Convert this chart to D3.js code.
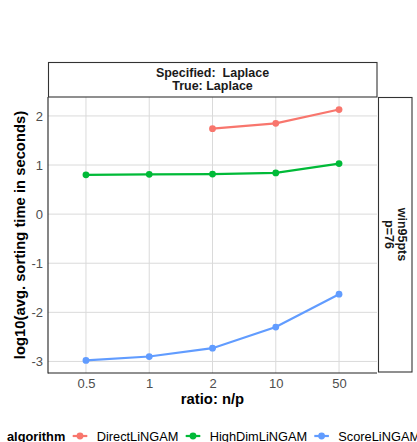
<!DOCTYPE html>
<html>
<head>
<meta charset="utf-8">
<script src="https://cdn.jsdelivr.net/npm/d3@7"></script>
<style>
  html, body { margin: 0; padding: 0; background: #fff; }
  svg { display: block; font-family: "Liberation Sans", Arial, sans-serif; }
  .strip-text { white-space: pre; }
</style>
</head>
<body>
<svg id="chart" width="417" height="442"></svg>
<script>
// Sample-size ratios (n/p), shown as evenly spaced categories
const ratios = ["0.5", "1", "2", "10", "50"];

// log10 of the average sorting time in seconds, one value per ratio
const directLiNGAM  = [null, null, 1.74, 1.85, 2.13];
const highDimLiNGAM = [0.80, 0.81, 0.815, 0.84, 1.03];
const scoreLiNGAM   = [-2.98, -2.90, -2.73, -2.30, -1.63];

const algorithms = ["DirectLiNGAM", "HighDimLiNGAM", "ScoreLiNGAM"];
const algorithmColors = ["#F8766D", "#00BA38", "#619CFF"];
const yTicks = [2, 1, 0, -1, -2, -3];

const stripTitle = ["Specified:  Laplace", "True: Laplace"];
const sideStrip = ["win95pts", "p=76"];

const seriesValues = [directLiNGAM, highDimLiNGAM, scoreLiNGAM];

const svg = d3.select("#chart");
const panel = { left: 48, right: 377, top: 97, bottom: 373 };

const x = d3.scalePoint()
  .domain(ratios)
  .range([panel.left, panel.right])
  .padding(0.6);

// continuous scale with 5% expansion on each side of the data range
const allVals = seriesValues.flat().filter(v => v != null);
const [lo, hi] = d3.extent(allVals);
const pad = (hi - lo) * 0.05;
const y = d3.scaleLinear()
  .domain([lo - pad, hi + pad])
  .range([panel.bottom, panel.top]);

const color = d3.scaleOrdinal().domain(algorithms).range(algorithmColors);

// grid lines
const grid = svg.append("g");
grid.selectAll("line.gy").data(yTicks).join("line")
  .attr("x1", panel.left).attr("x2", panel.right)
  .attr("y1", d => y(d)).attr("y2", d => y(d))
  .attr("stroke", "#dadada").attr("stroke-width", 1);
grid.selectAll("line.gx").data(ratios).join("line")
  .attr("x1", d => x(d)).attr("x2", d => x(d))
  .attr("y1", panel.top).attr("y2", panel.bottom)
  .attr("stroke", "#dadada").attr("stroke-width", 1);

// axes (no tick marks, only labels)
const yAxis = svg.append("g")
  .attr("transform", `translate(${panel.left},0)`)
  .call(d3.axisLeft(y).tickValues(yTicks).tickSize(0).tickPadding(5).tickFormat(d => String(d)));
yAxis.select(".domain").remove();
yAxis.selectAll("text").attr("fill", "#4d4d4d").style("font-size", "13px")
  .attr("font-family", "Liberation Sans, Arial, sans-serif");

const xAxis = svg.append("g")
  .attr("transform", `translate(0,${panel.bottom})`)
  .call(d3.axisBottom(x).tickSize(0).tickPadding(6));
xAxis.select(".domain").remove();
xAxis.selectAll("text").attr("fill", "#4d4d4d").style("font-size", "13px")
  .attr("font-family", "Liberation Sans, Arial, sans-serif");

// axis lines on left and bottom
svg.append("line")
  .attr("x1", panel.left).attr("x2", panel.left)
  .attr("y1", panel.top).attr("y2", panel.bottom + 0.5)
  .attr("stroke", "#222").attr("stroke-width", 1.1);
svg.append("line")
  .attr("x1", panel.left).attr("x2", panel.right)
  .attr("y1", panel.bottom).attr("y2", panel.bottom)
  .attr("stroke", "#222").attr("stroke-width", 1.1);

// series lines and points
const line = d3.line()
  .defined(d => d.v != null)
  .x(d => x(d.r))
  .y(d => y(d.v));

algorithms.forEach((alg, i) => {
  const pts = ratios.map((r, j) => ({ r, v: seriesValues[i][j] }));
  svg.append("path")
    .datum(pts)
    .attr("fill", "none")
    .attr("stroke", color(alg))
    .attr("stroke-width", 2.2)
    .attr("d", line);
  svg.append("g").selectAll("circle")
    .data(pts.filter(d => d.v != null))
    .join("circle")
    .attr("cx", d => x(d.r))
    .attr("cy", d => y(d.v))
    .attr("r", 3.4)
    .attr("fill", color(alg));
});

// top facet strip
svg.append("rect")
  .attr("x", panel.left + 0.5).attr("y", 62.5)
  .attr("width", panel.right - panel.left - 0.5).attr("height", panel.top - 62.5)
  .attr("fill", "#fff").attr("stroke", "#333").attr("stroke-width", 1.1);
svg.append("g").selectAll("text").data(stripTitle).join("text")
  .attr("class", "strip-text")
  .attr("x", (panel.left + panel.right) / 2)
  .attr("y", (d, i) => 77.3 + i * 13)
  .attr("text-anchor", "middle")
  .attr("fill", "#1a1a1a")
  .style("font-size", "12.5px").style("font-weight", "bold")
  .text(d => d);

// right facet strip
svg.append("rect")
  .attr("x", 378.5).attr("y", panel.top + 0.5)
  .attr("width", 412 - 378.5).attr("height", 372 - panel.top - 0.5)
  .attr("fill", "#fff").attr("stroke", "#333").attr("stroke-width", 1.1);
const sideY = (panel.top + 372) / 2;
svg.append("g").selectAll("text").data(sideStrip).join("text")
  .attr("transform", (d, i) => `translate(${398 - i * 13},${sideY}) rotate(90)`)
  .attr("text-anchor", "middle")
  .attr("fill", "#1a1a1a")
  .style("font-size", "12.5px").style("font-weight", "bold")
  .text(d => d);

// axis titles
svg.append("text")
  .attr("transform", `translate(25,${(panel.top + panel.bottom) / 2}) rotate(-90)`)
  .attr("text-anchor", "middle")
  .attr("fill", "#000")
  .style("font-size", "14.8px").style("font-weight", "bold")
  .text("log10(avg. sorting time in seconds)");
svg.append("text")
  .attr("x", (panel.left + panel.right) / 2)
  .attr("y", 404)
  .attr("text-anchor", "middle")
  .attr("fill", "#000")
  .style("font-size", "14.8px").style("font-weight", "bold")
  .text("ratio: n/p");

// legend
const legendY = 436;
const legend = svg.append("g");
legend.append("text")
  .attr("x", 7).attr("y", legendY + 4.5)
  .attr("fill", "#000")
  .style("font-size", "12.8px").style("font-weight", "bold")
  .text("algorithm");
const keyStarts = [72.7, 185.7, 314.3];
algorithms.forEach((alg, i) => {
  const g = legend.append("g").attr("transform", `translate(${keyStarts[i]},${legendY})`);
  g.append("line").attr("x1", 0).attr("x2", 14.6).attr("y1", 0).attr("y2", 0)
    .attr("stroke", color(alg)).attr("stroke-width", 2.2);
  g.append("circle").attr("cx", 7.3).attr("cy", 0).attr("r", 3.4).attr("fill", color(alg));
  g.append("text").attr("x", 24).attr("y", 4.5)
    .attr("fill", "#000")
    .style("font-size", "12.8px")
    .text(alg);
});
</script>
</body>
</html>
